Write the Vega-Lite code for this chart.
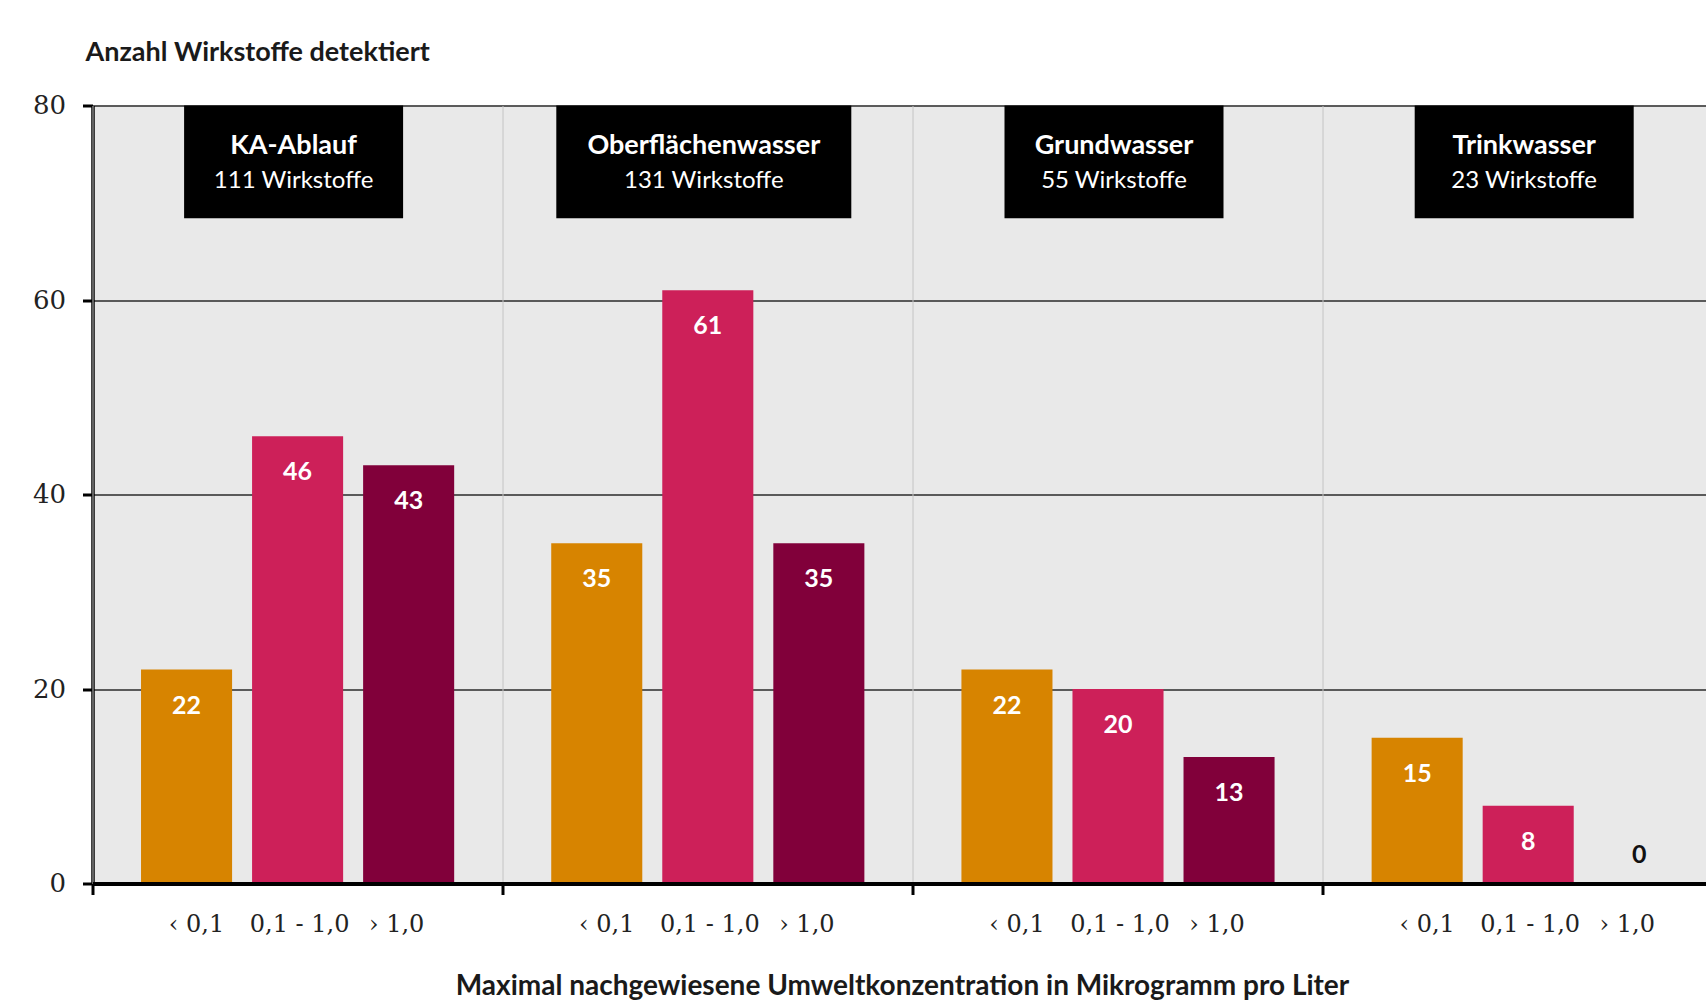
{
  "$schema": "https://vega.github.io/schema/vega-lite/v6.json",
  "width": 1613.5,
  "height": 778,
  "autosize": {"type": "none"},
  "padding": {"left": 92.5, "top": 105.5, "right": 0, "bottom": 119.5},
  "background": "white",
  "config": {"view": {"stroke": null, "fill": "#e9e9e9"}},
  "datasets": {
    "werte": [
      {"Gruppe": "KA-Ablauf", "Klasse": "‹ 0,1", "Anzahl": 22},
      {"Gruppe": "KA-Ablauf", "Klasse": "0,1 - 1,0", "Anzahl": 46},
      {"Gruppe": "KA-Ablauf", "Klasse": "› 1,0", "Anzahl": 43},
      {"Gruppe": "Oberflächenwasser", "Klasse": "‹ 0,1", "Anzahl": 35},
      {"Gruppe": "Oberflächenwasser", "Klasse": "0,1 - 1,0", "Anzahl": 61},
      {"Gruppe": "Oberflächenwasser", "Klasse": "› 1,0", "Anzahl": 35},
      {"Gruppe": "Grundwasser", "Klasse": "‹ 0,1", "Anzahl": 22},
      {"Gruppe": "Grundwasser", "Klasse": "0,1 - 1,0", "Anzahl": 20},
      {"Gruppe": "Grundwasser", "Klasse": "› 1,0", "Anzahl": 13},
      {"Gruppe": "Trinkwasser", "Klasse": "‹ 0,1", "Anzahl": 15},
      {"Gruppe": "Trinkwasser", "Klasse": "0,1 - 1,0", "Anzahl": 8},
      {"Gruppe": "Trinkwasser", "Klasse": "› 1,0", "Anzahl": 0}
    ],
    "gruppen": [
      {"Gruppe": "KA-Ablauf", "Zeile2": "111 Wirkstoffe"},
      {"Gruppe": "Oberflächenwasser", "Zeile2": "131 Wirkstoffe"},
      {"Gruppe": "Grundwasser", "Zeile2": "55 Wirkstoffe"},
      {"Gruppe": "Trinkwasser", "Zeile2": "23 Wirkstoffe"}
    ]
  },
  "encoding": {
    "x": {
      "field": "Gruppe",
      "type": "nominal",
      "scale": {
        "domain": ["KA-Ablauf", "Oberflächenwasser", "Grundwasser", "Trinkwasser"],
        "range": [0, 1640.8],
        "paddingInner": 0,
        "paddingOuter": 0
      },
      "axis": {
        "labels": false,
        "bandPosition": 0,
        "grid": true,
        "gridColor": "#c4c4c4",
        "gridWidth": 1,
        "domainColor": "#000000",
        "domainWidth": 4,
        "tickColor": "#000000",
        "tickWidth": 3,
        "tickSize": 11,
        "zindex": 1,
        "title": "Maximal nachgewiesene Umweltkonzentration in Mikrogramm pro Liter",
        "titleFont": "Lato",
        "titleFontSize": 28,
        "titleFontWeight": "bold",
        "titleColor": "#1a1a1a",
        "titleBaseline": "middle",
        "titleAlign": "center",
        "titleX": 809.5,
        "titleY": 102.5
      }
    }
  },
  "layer": [
    {
      "data": {"name": "werte"},
      "mark": {"type": "bar"},
      "encoding": {
        "xOffset": {
          "field": "Klasse",
          "type": "nominal",
          "scale": {"domain": ["‹ 0,1", "0,1 - 1,0", "› 1,0"], "paddingInner": 0.18, "paddingOuter": 0.437}
        },
        "y": {
          "field": "Anzahl",
          "type": "quantitative",
          "scale": {"domain": [0, 80], "nice": false},
          "axis": {
            "title": "Anzahl Wirkstoffe detektiert",
            "titleAngle": 0,
            "titleAlign": "left",
            "titleBaseline": "middle",
            "titleX": -7.5,
            "titleY": -53.5,
            "titleFont": "Lato",
            "titleFontSize": 27,
            "titleFontWeight": "bold",
            "titleColor": "#1a1a1a",
            "values": [0, 20, 40, 60, 80],
            "grid": true,
            "gridColor": "#2a2a2a",
            "gridWidth": 1.5,
            "domainColor": "#000000",
            "domainWidth": 3.5,
            "tickColor": "#000000",
            "tickWidth": 3,
            "tickSize": 10,
            "labelFont": "DejaVu Serif",
            "labelFontSize": 26,
            "labelColor": "#222222",
            "labelPadding": 17
          }
        },
        "color": {
          "field": "Klasse",
          "type": "nominal",
          "scale": {"domain": ["‹ 0,1", "0,1 - 1,0", "› 1,0"], "range": ["#D78400", "#CD2059", "#81003A"]},
          "legend": null
        }
      }
    },
    {
      "data": {"name": "werte"},
      "transform": [{"filter": "datum.Anzahl > 0"}],
      "mark": {"type": "text", "dy": 36, "baseline": "middle", "align": "center", "font": "Lato", "fontSize": 25, "fontWeight": "bold", "fill": "white"},
      "encoding": {
        "xOffset": {"field": "Klasse", "type": "nominal", "scale": {"domain": ["‹ 0,1", "0,1 - 1,0", "› 1,0"]}},
        "y": {"field": "Anzahl", "type": "quantitative"},
        "text": {"field": "Anzahl", "type": "quantitative"}
      }
    },
    {
      "data": {"name": "werte"},
      "transform": [{"filter": "datum.Anzahl == 0"}],
      "mark": {"type": "text", "dy": -29, "baseline": "middle", "align": "center", "font": "Lato", "fontSize": 25, "fontWeight": "bold", "fill": "#111111"},
      "encoding": {
        "xOffset": {"field": "Klasse", "type": "nominal", "scale": {"domain": ["‹ 0,1", "0,1 - 1,0", "› 1,0"]}},
        "y": {"field": "Anzahl", "type": "quantitative"},
        "text": {"field": "Anzahl", "type": "quantitative"}
      }
    },
    {
      "data": {"name": "werte"},
      "transform": [{"filter": "datum.Klasse == '‹ 0,1'"}],
      "mark": {"type": "text", "dy": 41, "dx": 10, "baseline": "middle", "align": "center", "font": "DejaVu Serif", "fontSize": 24, "fill": "#222222"},
      "encoding": {
        "xOffset": {"field": "Klasse", "type": "nominal", "scale": {"domain": ["‹ 0,1", "0,1 - 1,0", "› 1,0"]}},
        "y": {"datum": 0},
        "text": {"field": "Klasse", "type": "nominal"}
      }
    },
    {
      "data": {"name": "werte"},
      "transform": [{"filter": "datum.Klasse == '0,1 - 1,0'"}],
      "mark": {"type": "text", "dy": 41, "dx": 2, "baseline": "middle", "align": "center", "font": "DejaVu Serif", "fontSize": 24, "fill": "#222222"},
      "encoding": {
        "xOffset": {"field": "Klasse", "type": "nominal", "scale": {"domain": ["‹ 0,1", "0,1 - 1,0", "› 1,0"]}},
        "y": {"datum": 0},
        "text": {"field": "Klasse", "type": "nominal"}
      }
    },
    {
      "data": {"name": "werte"},
      "transform": [{"filter": "datum.Klasse == '› 1,0'"}],
      "mark": {"type": "text", "dy": 41, "dx": -12, "baseline": "middle", "align": "center", "font": "DejaVu Serif", "fontSize": 24, "fill": "#222222"},
      "encoding": {
        "xOffset": {"field": "Klasse", "type": "nominal", "scale": {"domain": ["‹ 0,1", "0,1 - 1,0", "› 1,0"]}},
        "y": {"datum": 0},
        "text": {"field": "Klasse", "type": "nominal"}
      }
    },
    {
      "data": {"name": "gruppen"},
      "transform": [{"filter": "datum.Gruppe != 'Oberflächenwasser'"}],
      "mark": {"type": "bar", "color": "#000000", "width": 219, "xOffset": -4},
      "encoding": {
        "y": {"datum": 80},
        "y2": {"datum": 68.4}
      }
    },
    {
      "data": {"name": "gruppen"},
      "transform": [{"filter": "datum.Gruppe == 'Oberflächenwasser'"}],
      "mark": {"type": "bar", "color": "#000000", "width": 295, "xOffset": -4},
      "encoding": {
        "y": {"datum": 80},
        "y2": {"datum": 68.4}
      }
    },
    {
      "data": {"name": "gruppen"},
      "mark": {"type": "text", "dy": 40, "dx": -4, "baseline": "middle", "align": "center", "font": "Lato", "fontSize": 27, "fontWeight": "bold", "fill": "white"},
      "encoding": {
        "y": {"datum": 80},
        "text": {"field": "Gruppe", "type": "nominal"}
      }
    },
    {
      "data": {"name": "gruppen"},
      "mark": {"type": "text", "dy": 75, "dx": -4, "baseline": "middle", "align": "center", "font": "Lato", "fontSize": 24, "fill": "white"},
      "encoding": {
        "y": {"datum": 80},
        "text": {"field": "Zeile2", "type": "nominal"}
      }
    }
  ]
}
